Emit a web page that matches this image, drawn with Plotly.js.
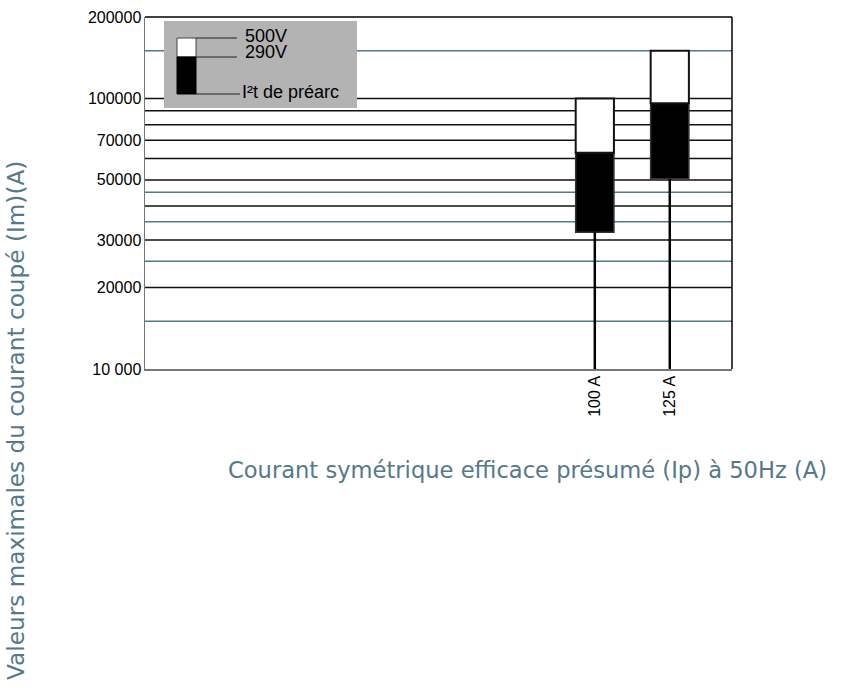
<!DOCTYPE html>
<html>
<head>
<meta charset="utf-8">
<script src="https://cdn.plot.ly/plotly-3.0.1.min.js"></script>
<style>html,body{margin:0;padding:0;background:#fff;}#chart{width:860px;height:687px;}</style>
</head>
<body>
<div id="chart"></div>
<script>
// ---- data ----
const categories = ["100 A", "125 A"];
const preArc = [32000, 50500];     // I²t de préarc (bottom of black box)
const v290 = [63000, 96000];       // 290V
const v500 = [100000, 150000];     // 500V
const yTickVals = [10000, 20000, 30000, 50000, 70000, 100000, 200000];
const yTickText = ["10 000", "20000", "30000", "50000", "70000", "100000", "200000"];
const gridMajor = [20000, 30000, 40000, 50000, 60000, 70000, 80000, 90000, 100000];
const gridTeal = [15000, 25000, 35000, 45000, 150000];
const yMin = 10000, yMax = 200000;

// ---- layout helpers (pixel -> paper) ----
const L = 145, R = 732, T = 17, B = 369;
const px = x => (x - L) / (R - L);
const py = y => (B - y) / (B - T);

const traces = [];
categories.forEach((c, i) => {
  traces.push({type: 'scatter', mode: 'lines', x: [c, c], y: [yMin, preArc[i]],
    line: {color: '#000', width: 2.5}, hoverinfo: 'skip', showlegend: false});
});
traces.push({type: 'bar', x: categories, base: preArc, y: preArc.map((b, i) => v290[i] - b),
  width: 0.51, marker: {color: '#000', line: {color: '#333', width: 1.5}}, showlegend: false});
traces.push({type: 'bar', x: categories, base: v290, y: v290.map((b, i) => v500[i] - b),
  width: 0.51, marker: {color: '#fff', line: {color: '#111', width: 2}}, showlegend: false});

const shapes = [];
gridMajor.forEach(v => shapes.push({type: 'line', xref: 'paper', x0: 0, x1: 1, yref: 'y', y0: v, y1: v,
  line: {color: '#111', width: 1.5}, layer: 'below'}));
gridTeal.forEach(v => shapes.push({type: 'line', xref: 'paper', x0: 0, x1: 1, yref: 'y', y0: v, y1: v,
  line: {color: '#4d7c84', width: 1.5}, layer: 'below'}));
// frame top/right
shapes.push({type: 'line', xref: 'paper', yref: 'paper', x0: 0, x1: 1, y0: 1, y1: 1, line: {color: '#000', width: 1.5}});
shapes.push({type: 'line', xref: 'paper', yref: 'paper', x0: 1, x1: 1, y0: 0, y1: 1, line: {color: '#000', width: 1.5}});
// legend box
shapes.push({type: 'rect', xref: 'paper', yref: 'paper', x0: px(164), x1: px(357), y0: py(108), y1: py(21),
  fillcolor: '#b3b3b3', line: {width: 0}, layer: 'above'});
shapes.push({type: 'rect', xref: 'paper', yref: 'paper', x0: px(177), x1: px(196), y0: py(57), y1: py(38),
  fillcolor: '#fff', line: {color: '#444', width: 1}, layer: 'above'});
shapes.push({type: 'rect', xref: 'paper', yref: 'paper', x0: px(177), x1: px(196), y0: py(94), y1: py(57),
  fillcolor: '#000', line: {color: '#000', width: 1}, layer: 'above'});
[[38, 237], [57, 237], [94, 240]].forEach(([y, x1]) => shapes.push({type: 'line', xref: 'paper', yref: 'paper',
  x0: px(196), x1: px(x1), y0: py(y), y1: py(y), line: {color: '#222', width: 1}, layer: 'above'}));

const legFont = {family: 'Liberation Sans, Arial, sans-serif', size: 18, color: '#000'};
const xTitleFont = {family: 'DejaVu Sans, sans-serif', size: 22.6, color: '#55798a'};
const yTitleFont = {family: 'DejaVu Sans, sans-serif', size: 23.2, color: '#55798a'};
const annotations = [
  {xref: 'paper', yref: 'paper', x: px(243), y: py(36), xanchor: 'left', yanchor: 'middle', text: '500V', showarrow: false, font: legFont},
  {xref: 'paper', yref: 'paper', x: px(243), y: py(52.5), xanchor: 'left', yanchor: 'middle', text: '290V', showarrow: false, font: legFont},
  {xref: 'paper', yref: 'paper', x: px(240), y: py(92), xanchor: 'left', yanchor: 'middle', text: 'I²t de préarc', showarrow: false, font: legFont},
  {xref: 'paper', yref: 'paper', x: px(527), y: py(470), xanchor: 'center', yanchor: 'middle',
   text: 'Courant symétrique efficace présumé (Ip) à 50Hz (A)', showarrow: false, font: xTitleFont},
  {xref: 'paper', yref: 'paper', x: px(15), y: py(421), xanchor: 'center', yanchor: 'middle', textangle: -90,
   text: 'Valeurs maximales du courant coupé (Im)(A)', showarrow: false, font: yTitleFont}
];

const tickFont = {family: 'Liberation Sans, Arial, sans-serif', size: 16, color: '#000'};
const layout = {
  width: 860, height: 687,
  margin: {l: L, r: 860 - R, t: T, b: 687 - B, pad: 0},
  paper_bgcolor: '#fff', plot_bgcolor: '#fff',
  barmode: 'overlay', showlegend: false,
  xaxis: {type: 'category', categoryorder: 'array', categoryarray: categories, range: [-6, 1.83],
    showgrid: false, zeroline: false, showline: true, linecolor: '#777', linewidth: 1.5,
    ticks: '', tickangle: -90, ticklabelstandoff: -1, tickfont: tickFont},
  yaxis: {type: 'log', range: [Math.log10(yMin), Math.log10(yMax)], tickmode: 'array',
    tickvals: yTickVals, ticktext: yTickText, showgrid: false, zeroline: false,
    showline: true, linecolor: '#777', linewidth: 1.5, ticks: '', ticklabelstandoff: -1, tickfont: tickFont},
  shapes: shapes, annotations: annotations
};

Plotly.newPlot('chart', traces, layout, {displayModeBar: false, staticPlot: true});
</script>
</body>
</html>
